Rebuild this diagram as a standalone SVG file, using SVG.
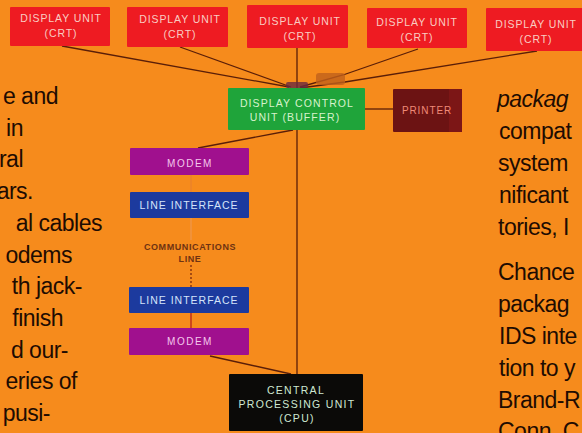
<svg xmlns="http://www.w3.org/2000/svg" width="582" height="433" viewBox="0 0 582 433">
<style>
.bg{fill:#f68b1c}
.lbl{font-family:"Liberation Sans",Arial,sans-serif;font-size:10.5px;text-anchor:middle;letter-spacing:0.9px}
.crt{fill:#ee1b22}
.crt-t{fill:#f9cdc2}
.body{font-family:"Liberation Sans",Arial,sans-serif;font-size:23px;fill:#1e0c02;letter-spacing:-0.5px}
.conn{stroke:#5a1e08;stroke-width:1.3;fill:none}
</style>
<rect class="bg" x="0" y="0" width="582" height="433"/>

<g id="connectors">
  <line class="conn" x1="62" y1="46" x2="289" y2="87"/>
  <line class="conn" x1="180" y1="47" x2="291" y2="87"/>
  <line class="conn" x1="297" y1="48" x2="297" y2="88"/>
  <polyline class="conn" points="418,49 343,75 300,87"/>
  <polyline class="conn" points="537,51 345,82 300,88"/>
  <rect x="316" y="73" width="29" height="12" rx="3" fill="#c0601c" opacity="0.8"/>
  <rect x="286" y="82" width="22" height="6" rx="2" fill="#6a2a40" opacity="0.8"/>
  <line class="conn" x1="365" y1="109" x2="393" y2="109"/>
  <line class="conn" x1="293" y1="130" x2="198" y2="148"/>
  <line class="conn" x1="297" y1="130" x2="297" y2="374"/>
  <line x1="191" y1="175" x2="191" y2="192" stroke="#e07a3a" stroke-width="1" opacity="0.7"/>
  <line x1="191" y1="218" x2="191" y2="240" stroke="#e8a070" stroke-width="1" opacity="0.7"/>
  <line x1="191" y1="265" x2="191" y2="287" stroke="#7a2a10" stroke-width="1.3" stroke-dasharray="2,2"/>
  <line x1="191" y1="313" x2="191" y2="328" stroke="#c0301a" stroke-width="1.5"/>
  <line class="conn" x1="210" y1="356" x2="291" y2="374"/>
</g>

<g id="crt1"><rect class="crt" x="10" y="7" width="100" height="39" rx="1"/>
<text class="lbl crt-t" x="61" y="22">DISPLAY UNIT</text><text class="lbl crt-t" x="61" y="37">(CRT)</text></g>
<g id="crt2"><rect class="crt" x="127" y="7" width="101" height="40" rx="1"/>
<text class="lbl crt-t" x="180" y="23">DISPLAY UNIT</text><text class="lbl crt-t" x="180" y="38">(CRT)</text></g>
<g id="crt3"><rect class="crt" x="247" y="5" width="101" height="43" rx="1"/>
<text class="lbl crt-t" x="300" y="25">DISPLAY UNIT</text><text class="lbl crt-t" x="300" y="40">(CRT)</text></g>
<g id="crt4"><rect class="crt" x="367" y="8" width="100" height="40" rx="1"/>
<text class="lbl crt-t" x="417" y="26">DISPLAY UNIT</text><text class="lbl crt-t" x="417" y="41">(CRT)</text></g>
<g id="crt5"><rect class="crt" x="486" y="8" width="104" height="43" rx="1"/>
<text class="lbl crt-t" x="536" y="28">DISPLAY UNIT</text><text class="lbl crt-t" x="536" y="43">(CRT)</text></g>

<g id="dcu"><rect x="228" y="88" width="137" height="42" rx="1" fill="#1fa43a"/>
<text class="lbl" x="297" y="107" fill="#d8f2cc" style="letter-spacing:1.1px">DISPLAY CONTROL</text>
<text class="lbl" x="295" y="121" fill="#d8f2cc" style="letter-spacing:1.1px">UNIT (BUFFER)</text></g>

<g id="printer"><rect x="393" y="89" width="69" height="43" rx="1" fill="#6c1313"/>
<rect x="449" y="89" width="13" height="43" fill="#7c1616"/>
<text class="lbl" x="427" y="114" fill="#f08a78" style="font-size:10px">PRINTER</text></g>

<g id="modem1"><rect x="130" y="148" width="119" height="27" rx="1" fill="#a0108e"/>
<text class="lbl" x="190" y="167" fill="#f4c8ec" style="font-size:10px;letter-spacing:1.5px">MODEM</text></g>

<g id="lineif1"><rect x="130" y="192" width="119" height="26" rx="1" fill="#1c3a9e"/>
<text class="lbl" x="189" y="209" fill="#d4e4fa" style="letter-spacing:1px">LINE INTERFACE</text></g>

<g id="commline">
<text x="190" y="250" font-family="Liberation Sans,Arial,sans-serif" font-size="9" font-weight="bold" fill="#6e3212" text-anchor="middle" letter-spacing="0.6">COMMUNICATIONS</text>
<text x="190" y="262" font-family="Liberation Sans,Arial,sans-serif" font-size="9" font-weight="bold" fill="#6e3212" text-anchor="middle" letter-spacing="0.6">LINE</text></g>

<g id="lineif2"><rect x="129" y="287" width="120" height="26" rx="1" fill="#1c3a9e"/>
<text class="lbl" x="189" y="304" fill="#d4e4fa" style="letter-spacing:1px">LINE INTERFACE</text></g>

<g id="modem2"><rect x="129" y="328" width="120" height="27" rx="1" fill="#a0108e"/>
<text class="lbl" x="190" y="345" fill="#f4c8ec" style="font-size:10px;letter-spacing:1.5px">MODEM</text></g>

<g id="cpu"><rect x="229" y="374" width="134" height="57" rx="1" fill="#0b0a08"/>
<text class="lbl" x="296" y="394" fill="#cfe8d2" style="letter-spacing:1.3px">CENTRAL</text>
<text class="lbl" x="297" y="408" fill="#cfe8d2" style="letter-spacing:1.3px">PROCESSING UNIT</text>
<text class="lbl" x="297" y="422" fill="#cfe8d2" style="letter-spacing:1.3px">(CPU)</text></g>

<g id="left-text">
<text class="body" text-anchor="end" x="58" y="104">e and</text>
<text class="body" text-anchor="end" x="23" y="136">in</text>
<text class="body" text-anchor="end" x="23" y="167">ral</text>
<text class="body" text-anchor="end" x="33" y="199">ars.</text>
<text class="body" text-anchor="end" x="102" y="231">al cables</text>
<text class="body" text-anchor="end" x="72" y="263">odems</text>
<text class="body" text-anchor="end" x="82" y="294">th jack-</text>
<text class="body" text-anchor="end" x="63" y="326">finish</text>
<text class="body" text-anchor="end" x="68" y="358">d our-</text>
<text class="body" text-anchor="end" x="77" y="389">eries of</text>
<text class="body" text-anchor="end" x="50" y="421">pusi-</text>
</g>

<g id="right-text">
<text class="body" x="497" y="107" font-style="italic">packag</text>
<text class="body" x="499" y="139">compat</text>
<text class="body" x="498" y="171">system</text>
<text class="body" x="499" y="203">nificant</text>
<text class="body" x="498" y="235">tories, I</text>
<text class="body" x="498" y="280">Chance</text>
<text class="body" x="498" y="312">packag</text>
<text class="body" x="499" y="344">IDS inte</text>
<text class="body" x="499" y="376">tion to y</text>
<text class="body" x="498" y="408">Brand-R</text>
<text class="body" x="498" y="439">Conn. C</text>
</g>
</svg>
